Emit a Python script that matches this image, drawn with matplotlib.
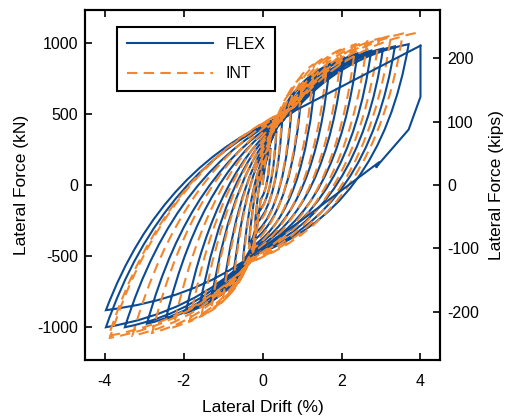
import numpy as np
import matplotlib
matplotlib.use("Agg")
import matplotlib.pyplot as plt
from matplotlib.path import Path
from matplotlib.patches import PathPatch
from matplotlib.lines import Line2D

plt.rcParams['font.family'] = ['Liberation Sans', 'DejaVu Sans']
plt.rcParams['axes.unicode_minus'] = False

# cycle peaks (drift %, force kN) and pinching points, FLEX model
flex_pos_drift = [0.2, 0.35, 0.5, 0.75, 1.0, 1.35, 1.7, 2.05, 2.4, 2.75, 3.05, 3.35, 3.7, 4.0]
flex_pos_force = [260, 380, 480, 600, 700, 790, 850, 895, 925, 945, 960, 975, 990, 980]
flex_neg_drift = [-0.2, -0.35, -0.5, -0.75, -1.0, -1.3, -1.6, -1.95, -2.45, -2.93, -3.49, -3.97, -3.97]
flex_neg_force = [-300, -420, -530, -650, -740, -810, -860, -900, -940, -975, -1000, -1000, -880]
flex_pinch_pos_x = [0.05, 0.1, 0.15, 0.25, 0.35, 0.45, 0.55, 0.6, 0.65, 0.7, 0.75, 0.8, 0.8, 0.8]
flex_pinch_pos_f = [100, 180, 250, 330, 390, 430, 460, 480, 490, 500, 510, 520, 520, 520]
flex_pinch_neg_x = [-0.05, -0.1, -0.12, -0.15, -0.18, -0.2, -0.22, -0.25, -0.25, -0.3, -0.3, -0.3, -0.3, -0.3]
flex_pinch_neg_f = [-100, -190, -260, -330, -380, -420, -440, -460, -470, -480, -490, -500, -500, -500]

# INT model
int_pos_drift = [0.2, 0.35, 0.5, 0.75, 1.0, 1.3, 1.65, 2.0, 2.35, 2.65, 2.95, 3.25, 3.55, 3.9]
int_pos_force = [300, 420, 530, 660, 760, 850, 910, 955, 990, 1010, 1030, 1050, 1065, 1070]
int_neg_drift = [-0.2, -0.35, -0.5, -0.75, -1.0, -1.3, -1.55, -1.85, -2.26, -2.8, -3.3, -3.87, -3.9]
int_neg_force = [-320, -450, -570, -700, -800, -870, -920, -960, -1000, -1040, -1060, -1075, -1060]
int_pinch_pos_x = [0.05, 0.1, 0.15, 0.25, 0.35, 0.45, 0.55, 0.6, 0.65, 0.7, 0.75, 0.8, 0.8, 0.8]
int_pinch_pos_f = [110, 200, 270, 350, 410, 450, 480, 500, 520, 530, 540, 550, 550, 550]
int_pinch_neg_x = [-0.05, -0.1, -0.12, -0.15, -0.18, -0.2, -0.22, -0.25, -0.25, -0.3, -0.3, -0.3, -0.3]
int_pinch_neg_f = [-110, -200, -280, -350, -400, -440, -470, -490, -510, -520, -530, -540, -540]

# last FLEX unloading after strength drop at 4 %
flex_tail_x = [4.0, 4.0, 3.7, 2.95, 2.88, 2.95, 1.0, -0.3]
flex_tail_f = [980, 620, 390, 150, 125, 160, -245, -500]

KIP = 4.448


def hysteresis_path(pd, pf, nd, nf, ax_, af_, bx_, bf_):
    verts = [(0.0, 0.0)]
    codes = [Path.MOVETO]
    n = len(nd)
    for k in range(len(pd)):
        # reload toward positive peak
        sx, sf = verts[-1]
        c = (sx + 0.4 * (pd[k] - sx), sf + 0.8 * (pf[k] - sf))
        verts += [c, (pd[k], pf[k])]
        codes += [Path.CURVE3, Path.CURVE3]
        if k >= n:
            break
        # unload to negative pinch
        bx, bf = bx_[k], bf_[k]
        c = (pd[k] - 0.18 * (pd[k] - bx), bf + 0.2 * (pf[k] - bf))
        verts += [c, (bx, bf)]
        codes += [Path.CURVE3, Path.CURVE3]
        # reload toward negative peak
        c = (bx + 0.4 * (nd[k] - bx), bf + 0.8 * (nf[k] - bf))
        verts += [c, (nd[k], nf[k])]
        codes += [Path.CURVE3, Path.CURVE3]
        # unload to positive pinch
        j = min(k + 1, len(ax_) - 1)
        axx, aff = ax_[j], af_[j]
        c = (nd[k] + 0.3 * (axx - nd[k]), aff - 0.25 * (aff - nf[k]))
        verts += [c, (axx, aff)]
        codes += [Path.CURVE3, Path.CURVE3]
    return Path(verts, codes)


fig = plt.figure(figsize=(5.06, 4.2), dpi=100)
ax = fig.add_axes([0.168, 0.143, 0.702, 0.833])

blue = '#0c4b94'
orange = '#f3862c'
dash = (0, (5, 3))

p_flex = hysteresis_path(flex_pos_drift[:-1], flex_pos_force[:-1], flex_neg_drift, flex_neg_force,
                         flex_pinch_pos_x, flex_pinch_pos_f, flex_pinch_neg_x, flex_pinch_neg_f)
ax.add_patch(PathPatch(p_flex, fill=False, edgecolor=blue, lw=1.5))
# final FLEX excursion to 4 %
last = p_flex.vertices[-1]
ax.plot([last[0], flex_pos_drift[-1]], [last[1], flex_pos_force[-1]], color=blue, lw=1.5)
ax.plot(flex_tail_x, flex_tail_f, color=blue, lw=1.5)

p_int = hysteresis_path(int_pos_drift, int_pos_force, int_neg_drift, int_neg_force,
                        int_pinch_pos_x, int_pinch_pos_f, int_pinch_neg_x, int_pinch_neg_f)
ax.add_patch(PathPatch(p_int, fill=False, edgecolor=orange, lw=1.5, linestyle=dash))

ax.set_xlim(-4.5, 4.5)
ax.set_ylim(-1230, 1230)
ax.set_xticks([-4, -2, 0, 2, 4])
ax.set_yticks([-1000, -500, 0, 500, 1000])
ax.tick_params(direction='in', length=5, width=1.2, labelsize=11.5, top=True)
ax.tick_params(axis='x', pad=10)
ax.tick_params(axis='y', pad=5)
for s in ax.spines.values():
    s.set_linewidth(1.5)
ax.set_xlabel('Lateral Drift (%)', fontsize=12.5, labelpad=8)
ax.set_ylabel('Lateral Force (kN)', fontsize=12.5, labelpad=6)

ax2 = ax.twinx()
ax2.set_ylim(-1230 / KIP, 1230 / KIP)
ax2.set_yticks([-200, -100, 0, 100, 200])
ax2.tick_params(direction='in', length=5, width=1.2, labelsize=11.5, pad=5)
ax2.set_ylabel('Lateral Force (kips)', fontsize=12.5, labelpad=7)
for s in ax2.spines.values():
    s.set_linewidth(1.5)

handles = [Line2D([], [], color=blue, lw=1.5),
           Line2D([], [], color=orange, lw=1.5, linestyle=dash)]
leg = ax.legend(handles, ['FLEX', 'INT'], loc='upper left', bbox_to_anchor=(0.09, 0.951),
                fontsize=11.5, handlelength=5.4, fancybox=False, framealpha=1,
                borderpad=0.6, labelspacing=0.9, borderaxespad=0)
leg.get_frame().set_edgecolor('black')
leg.get_frame().set_linewidth(1.5)

fig.savefig('out.png', dpi=100)
